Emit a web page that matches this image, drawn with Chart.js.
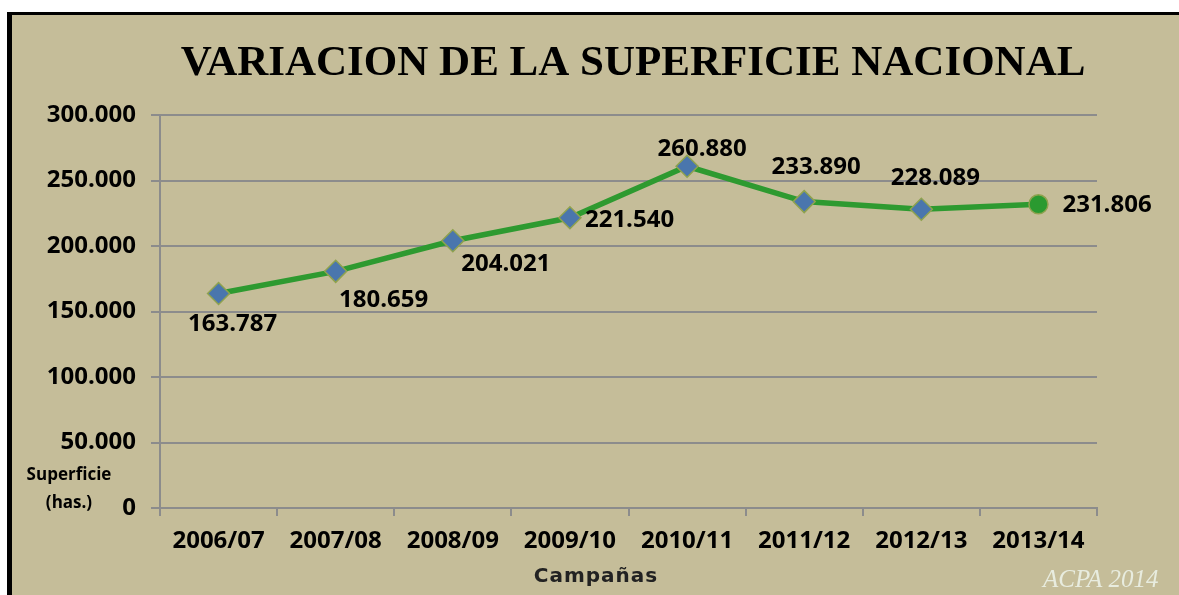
<!DOCTYPE html>
<html>
<head>
<meta charset="utf-8">
<script src="https://cdn.jsdelivr.net/npm/chart.js@4"></script>
<style>
    html, body { margin: 0; padding: 0; background: #ffffff; }
    #frame {
        position: absolute; left: 7px; top: 12px; width: 1167px; height: 580px;
        border-left: 5px solid #000; border-top: 3px solid #000;
        background: #c5bd99; overflow: hidden;
    }
    canvas { display: block; }
</style>
</head>
<body>
<div id="frame"><canvas id="superficieChart" width="1167" height="580"></canvas></div>
<script>
// datos de la campaña
const campanas = ['2006/07', '2007/08', '2008/09', '2009/10', '2010/11', '2011/12', '2012/13', '2013/14'];
const superficie = [163787, 180659, 204021, 221540, 260880, 233890, 228089, 231806];
const yTicks = [0, 50000, 100000, 150000, 200000, 250000, 300000];

const TITLE = 'VARIACION DE LA SUPERFICIE NACIONAL';
const LABEL_FONT = "bold 24px 'Open Sans', sans-serif";

// desplazamiento de cada etiqueta respecto a su punto (dx, dy, alineación)
const labelPlacement = [
    [14, 31, 'center'], [48, 29, 'center'], [53, 23, 'center'], [15, 2, 'left'],
    [15, -17, 'center'], [12, -34, 'center'], [14, -31, 'center'], [24, 1, 'left']
];

const fmt = v => String(v).replace(/\B(?=(\d{3})+(?!\d))/g, '.');

const extrasPlugin = {
    id: 'extras',
    afterDraw(chart) {
        const ctx = chart.ctx;
        const meta = chart.getDatasetMeta(0);
        ctx.save();
        // título
        ctx.fillStyle = '#000';
        ctx.textAlign = 'center';
        ctx.textBaseline = 'middle';
        ctx.font = "bold 43px 'Liberation Serif', serif";
        ctx.fillText(TITLE, 621, 49);

        // etiquetas de datos
        ctx.font = LABEL_FONT;
        meta.data.forEach((pt, i) => {
            const [dx, dy, align] = labelPlacement[i];
            ctx.textAlign = align;
            ctx.fillText(fmt(superficie[i]), pt.x + dx, pt.y + dy);
        });

        // título eje y
        ctx.textAlign = 'center';
        ctx.font = "bold 17px 'Open Sans', sans-serif";
        ctx.fillText('Superficie', 57, 460);
        ctx.fillText('(has.)', 57, 488);

        // título eje x
        ctx.fillStyle = '#222';
        ctx.font = "bold 20px 'DejaVu Sans', sans-serif";
        ctx.letterSpacing = '1px';
        ctx.fillText('Campañas', 584, 562);
        ctx.letterSpacing = '0px';

        // marca de agua
        ctx.fillStyle = '#e8ecdf';
        ctx.textAlign = 'left';
        ctx.font = "italic 25px 'Liberation Serif', serif";
        ctx.fillText('ACPA 2014', 1031, 565);
        ctx.restore();
    }
};

const ctx = document.getElementById('superficieChart').getContext('2d');
new Chart(ctx, {
    type: 'line',
    data: {
        labels: campanas,
        datasets: [{
            data: superficie,
            borderColor: '#2e9a30',
            borderWidth: 5.5,
            tension: 0,
            pointStyle: superficie.map((_, i) => i === superficie.length - 1 ? 'circle' : 'rectRot'),
            pointRadius: superficie.map((_, i) => i === superficie.length - 1 ? 9.5 : 11),
            pointBackgroundColor: superficie.map((_, i) => i === superficie.length - 1 ? '#2a9a30' : '#4a76ad'),
            pointBorderColor: '#8fa24e',
            pointBorderWidth: 1.5
        }]
    },
    options: {
        responsive: false,
        animation: false,
        layout: { padding: { top: 100, right: 82, left: 0, bottom: 0 } },
        plugins: { legend: { display: false }, title: { display: false }, tooltip: { enabled: false } },
        scales: {
            x: {
                offset: true,
                afterFit: s => { s.height = 87; },
                grid: { offset: true, drawOnChartArea: false, tickLength: 8, color: '#8c8c8c', lineWidth: 2 },
                border: { color: '#8c8c8c', width: 2 },
                ticks: { color: '#000', padding: 11, font: { family: "'Open Sans', sans-serif", size: 24, weight: 'bold' } }
            },
            y: {
                min: 0,
                max: 300000,
                afterFit: s => { s.width = 148; },
                afterBuildTicks: s => { s.ticks = yTicks.map(v => ({ value: v })); },
                grid: { color: '#8c8c8c', lineWidth: 2, tickLength: 9 },
                border: { color: '#8c8c8c', width: 2 },
                ticks: {
                    color: '#000', padding: 15,
                    font: { family: "'Open Sans', sans-serif", size: 24, weight: 'bold' },
                    callback: v => fmt(v)
                }
            }
        }
    },
    plugins: [extrasPlugin]
});
</script>
</body>
</html>
